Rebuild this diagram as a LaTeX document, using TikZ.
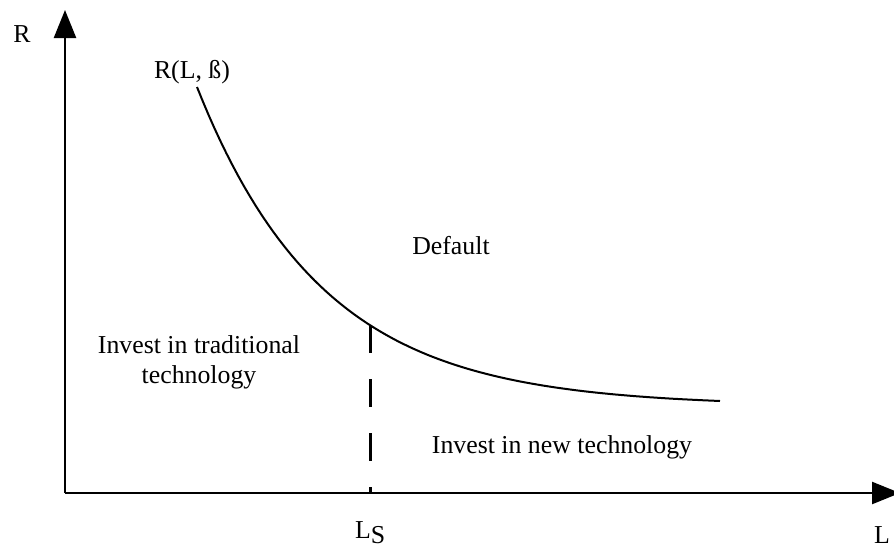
\documentclass[tikz,border=0pt]{standalone}
\usepackage{fontspec}
\setmainfont{Liberation Serif}
\usetikzlibrary{arrows.meta}
\tikzset{
  axis/.style= {line width=2.4pt, -{Triangle[length=28pt, width=22pt]}},
  curve/.style= {line width=2pt},
  split/.style= {line width=3pt, dash pattern=on 28pt off 26pt},
  lbl/.style= {anchor=base, inner sep=0pt, font=\fontsize{25.8}{30}\selectfont},
  region/.style= {lbl, align=center},
}

\begin{document}
\begin{tikzpicture}[x=1pt, y=-1pt]
  \useasboundingbox (0,0) rectangle (894,550);
  \coordinate (o) at (65,493) ;
  \coordinate (ytop) at (65,10) ;
  \coordinate (xend) at (900,493) ;
  \coordinate (ls) at (370,325) ;

  \draw [axis] (o) -- (ytop) ;
  \draw [axis] (o) -- (xend) ;

  \draw [curve] plot [domain=197:720, samples=90] (\x, {406-319*exp(-0.00793*(\x-197))}) ;
  \draw [split] (ls) -- (ls |- o) ;

  \node [lbl] (rlab) at (22,42) {R} ;
  \node [lbl] (llab) at (882,543) {L} ;
  \node [lbl, anchor=base west] (lslab) at (355,538) {L\raisebox{-5pt}{S}} ;
  \node [lbl] (rfun) at (192,78) {R(L, ß)} ;
  \node [lbl] (dflt) at (451,254) {Default} ;
  \node [region] (trad) at (199,383) {Invest in traditional\\technology} ;
  \node [lbl] (newt) at (562,453) {Invest in new technology} ;
\end{tikzpicture}
\end{document}
